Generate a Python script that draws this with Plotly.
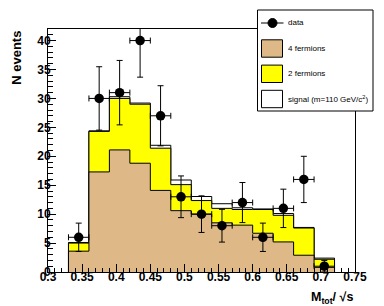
import numpy as np
import plotly.graph_objects as go

# ---------------- data ----------------
bin_edges = [0.33, 0.36, 0.39, 0.42, 0.45, 0.48, 0.51, 0.54, 0.57, 0.60, 0.63, 0.66, 0.69, 0.72]
data_counts = [6, 30, 31, 40, 27, 13, 10, 8, 12, 6, 11, 16, 1]
four_fermions = [3.6, 17.3, 21.1, 18.8, 14.1, 10.6, 10.0, 8.5, 8.1, 6.7, 5.2, 2.9, 0.8]
two_fermions = [1.4, 7.0, 8.9, 10.2, 7.3, 4.5, 2.35, 2.5, 2.7, 4.1, 4.6, 4.7, 1.4]
signal = [0.1, 0.1, 0.3, 0.2, 0.5, 0.8, 0.7, 0.8, 0.3, 0.1, 0.3, 0.1, 0.2]
x_ticks = [0.3, 0.35, 0.4, 0.45, 0.5, 0.55, 0.6, 0.65, 0.7, 0.75]
y_ticks = [0, 5, 10, 15, 20, 25, 30, 35, 40]

# ---------------- layout geometry ----------------
W, H = 384, 306
ML, MR, MT, MB = 40, 37, 21, 42
PW, PH = W - ML - MR, H - MT - MB

def px(x):
    return (x - ML) / PW

def py(y):
    return (H - MB - y) / PH

edges = np.array(bin_edges)
centers = 0.5 * (edges[:-1] + edges[1:])
half_w = 0.5 * (edges[1:] - edges[:-1])
ff = np.array(four_fermions)
bkg = ff + np.array(two_fermions)
tot = bkg + np.array(signal)

def step(vals):
    xs = [edges[0]] + list(edges[:-1]) + [edges[-1], edges[-1]]
    ys = [0] + list(vals) + [vals[-1], 0]
    return xs, ys

TAN = "rgb(222,185,135)"
YEL = "rgb(255,255,0)"

fig = go.Figure()
for vals, col, name in [(tot, "white", "signal"), (bkg, YEL, "2 fermions"), (ff, TAN, "4 fermions")]:
    xs, ys = step(vals)
    fig.add_trace(go.Scatter(x=xs, y=ys, mode="lines", line=dict(shape="hv", color="black", width=1),
                             fill="tozeroy", fillcolor=col, name=name, showlegend=False, hoverinfo="skip"))

counts = np.array(data_counts, dtype=float)
fig.add_trace(go.Scatter(
    x=centers, y=counts, mode="markers", name="data", showlegend=False,
    marker=dict(color="black", size=9.5, symbol="circle"),
    error_y=dict(type="data", array=np.sqrt(counts), color="black", thickness=1, width=3),
    error_x=dict(type="data", array=half_w, color="black", thickness=1, width=3),
))

FONT = "Liberation Sans, Arial, Helvetica, sans-serif"

axis_common = dict(showgrid=False, zeroline=False, showline=True, linecolor="black", linewidth=1,
                   mirror=True, ticks="inside", ticklen=8, tickcolor="black", tickwidth=1,
                   tickfont=dict(family=FONT, size=12, color="black", weight="bold"))

fig.update_xaxes(range=[0.3, 0.75], tickvals=x_ticks, ticktext=[f"{v:g}" for v in x_ticks],
                 minor=dict(dtick=0.01, tick0=0.3, ticks="inside", ticklen=4, tickcolor="black"),
                 ticklabelstandoff=-6, **axis_common)
fig.update_yaxes(range=[0, 42], tickvals=y_ticks, ticktext=[str(v) for v in y_ticks],
                 minor=dict(dtick=1, tick0=0, ticks="inside", ticklen=5, tickcolor="black"),
                 ticklabelstandoff=-6, **axis_common)

shapes = []
annotations = []

# legend box
shapes.append(dict(type="rect", xref="paper", yref="paper", x0=px(249.5), x1=px(365), y0=py(103), y1=py(2),
                   line=dict(color="black", width=1), fillcolor="white", layer="above"))
# data entry
shapes.append(dict(type="line", xref="paper", yref="paper", x0=px(253), x1=px(275.5), y0=py(15), y1=py(15),
                   line=dict(color="black", width=1), layer="above"))
shapes.append(dict(type="circle", xref="paper", yref="paper", x0=px(260), x1=px(269), y0=py(19.5), y1=py(10.5),
                   line=dict(color="black", width=1), fillcolor="black", layer="above"))
legend_items = [("data", 15, None),
                ("4 fermions", 40.5, TAN),
                ("2 fermions", 65.8, YEL),
                ("signal (m=110 GeV/c<sup>2</sup>)", 91, "white")]
for text, yc, col in legend_items:
    if col is not None:
        shapes.append(dict(type="rect", xref="paper", yref="paper", x0=px(253.5), x1=px(274.5),
                           y0=py(yc + 8.7), y1=py(yc - 8.7), line=dict(color="black", width=1),
                           fillcolor=col, layer="above"))
    annotations.append(dict(text=text, xref="paper", yref="paper", x=px(277.5), y=py(yc),
                            xanchor="left", yanchor="middle", showarrow=False,
                            font=dict(family=FONT, size=8, color="black")))

# axis titles
annotations.append(dict(text="<b>N events</b>", xref="paper", yref="paper", x=px(8.3), y=py(49.5),
                        xanchor="center", yanchor="middle", textangle=-90, showarrow=False,
                        font=dict(family=FONT, size=13, color="black")))
annotations.append(dict(text="<b>M<sub>tot</sub>/ √s</b>", xref="paper", yref="paper", x=px(347), y=py(290),
                        xanchor="right", yanchor="middle", showarrow=False,
                        font=dict(family=FONT, size=12.5, color="black")))

fig.update_layout(width=W, height=H, margin=dict(l=ML, r=MR, t=MT, b=MB, pad=0, autoexpand=False),
                  paper_bgcolor="white", plot_bgcolor="white", showlegend=False,
                  shapes=shapes, annotations=annotations)

fig.write_html("out.html")
